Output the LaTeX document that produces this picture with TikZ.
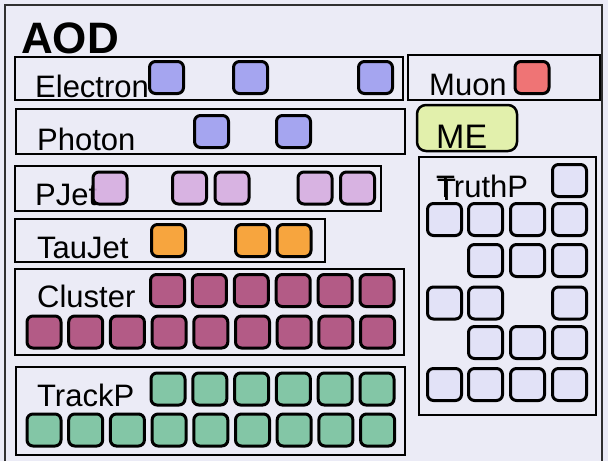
\documentclass[tikz,border=0pt]{standalone}
\usepackage{fontspec}
\setmainfont{Liberation Sans}
\definecolor{bgc}{HTML}{EBEBF6}
\definecolor{framegray}{HTML}{303030}
\definecolor{sqblue}{HTML}{9E9EF0}
\definecolor{sqred}{HTML}{F06868}
\definecolor{sqlilac}{HTML}{D6AEE0}
\definecolor{sqorange}{HTML}{F99E2A}
\definecolor{sqmaroon}{HTML}{AE4C7A}
\definecolor{sqgreen}{HTML}{78C29E}
\definecolor{sqpale}{HTML}{E2E2F8}
\definecolor{mefill}{HTML}{E2F0AC}
\begin{document}
\begin{tikzpicture}[x=1pt,y=-1pt,
  box/.style={draw=black,line width=2pt,inner sep=0pt},
  lbl/.style={anchor=base west,inner sep=0pt,font=\fontsize{31}{31}\selectfont},
  sq/.style={draw=black,line width=3pt,rounded corners=6pt,minimum width=34pt,minimum height=32pt,inner sep=0pt,fill opacity=0.9,draw opacity=1}]
\useasboundingbox (0,0) rectangle (608,461);
\fill[bgc] (0,0) rectangle (608,461);
\draw[line width=2pt,draw=framegray] (5,461) -- (5,5) -- (602,5) -- (602,461);

\node[anchor=base west,inner sep=0pt,font=\fontsize{44}{44}\selectfont\bfseries] (aod) at (21,53) {AOD};

% container boxes
\node[box,minimum width=388pt,minimum height=43pt] (electron) at (209,78.5) {};
\node[box,minimum width=192pt,minimum height=45pt] (muon) at (504,77.5) {};
\node[box,minimum width=389pt,minimum height=45pt] (photon) at (210.5,131.5) {};
\node[box,minimum width=366pt,minimum height=45pt] (pjet) at (198,188.5) {};
\node[box,minimum width=310pt,minimum height=43pt] (taujet) at (170,240.5) {};
\node[box,minimum width=389pt,minimum height=86pt] (cluster) at (209.5,312) {};
\node[box,minimum width=389pt,minimum height=88pt] (trackp) at (210.5,411) {};
\node[box,minimum width=177pt,minimum height=258pt] (truthp) at (507.5,286) {};
\node[draw=black,line width=2.5pt,rounded corners=9pt,fill=mefill,minimum width=100pt,minimum height=46pt,inner sep=0pt] (me) at (467,128) {};

% labels
\node[lbl] (electronlbl) at (35,97) {Electron};
\node[lbl] (muonlbl) at (429,95) {Muon};
\node[lbl] (photonlbl) at (37,150) {Photon};
\node[lbl] (pjetlbl) at (35,205) {PJet};
\node[lbl] (taujetlbl) at (37,258) {TauJet};
\node[lbl] (clusterlbl) at (37,307) {Cluster};
\node[lbl] (trackplbl) at (37,406) {TrackP};
\node[lbl] (truthplbl) at (436,197) {TruthP};
\node[lbl] (truthpT) at (437,200) {T};
\node[anchor=base west,inner sep=0pt,font=\fontsize{34}{34}\selectfont] (melbl) at (436,148) {ME};

% squares
\foreach \x [count=\i] in {166.5,250.5,375.5}
  \node[sq,fill=sqblue] (el\i) at (\x,77.5) {};
\node[sq,fill=sqred] (mu1) at (532,77.5) {};
\foreach \x [count=\i] in {211.5,293.5}
  \node[sq,fill=sqblue] (ph\i) at (\x,131.5) {};
\foreach \x [count=\i] in {110,189.5,232,315,357.5}
  \node[sq,fill=sqlilac] (pj\i) at (\x,188) {};
\foreach \x [count=\i] in {168.5,252.5,294}
  \node[sq,fill=sqorange] (tj\i) at (\x,240.5) {};
\foreach \k in {0,...,5}
  \node[sq,fill=sqmaroon] (clt\k) at (167.5+41.9*\k,290.5) {};
\foreach \k in {0,...,8}
  \node[sq,fill=sqmaroon] (clb\k) at (44+41.7*\k,332) {};
\foreach \k in {0,...,5}
  \node[sq,fill=sqgreen] (trt\k) at (168+41.8*\k,389) {};
\foreach \k in {0,...,8}
  \node[sq,fill=sqgreen] (trb\k) at (44+41.7*\k,430) {};
% TruthP grid
\node[sq,fill=sqpale] (tp14) at (569.5,180.5) {};
\foreach \x [count=\i] in {444.5,485.5,527.5,569.5}
  \node[sq,fill=sqpale] (tp2\i) at (\x,219.5) {};
\foreach \x [count=\i] in {485.5,527.5,569.5}
  \node[sq,fill=sqpale] (tp3\i) at (\x,260.5) {};
\foreach \x [count=\i] in {444.5,485.5,569.5}
  \node[sq,fill=sqpale] (tp4\i) at (\x,303) {};
\foreach \x [count=\i] in {485.5,527.5,569.5}
  \node[sq,fill=sqpale] (tp5\i) at (\x,342.5) {};
\foreach \x [count=\i] in {444.5,485.5,527.5,569.5}
  \node[sq,fill=sqpale] (tp6\i) at (\x,384.5) {};
\end{tikzpicture}
\end{document}
